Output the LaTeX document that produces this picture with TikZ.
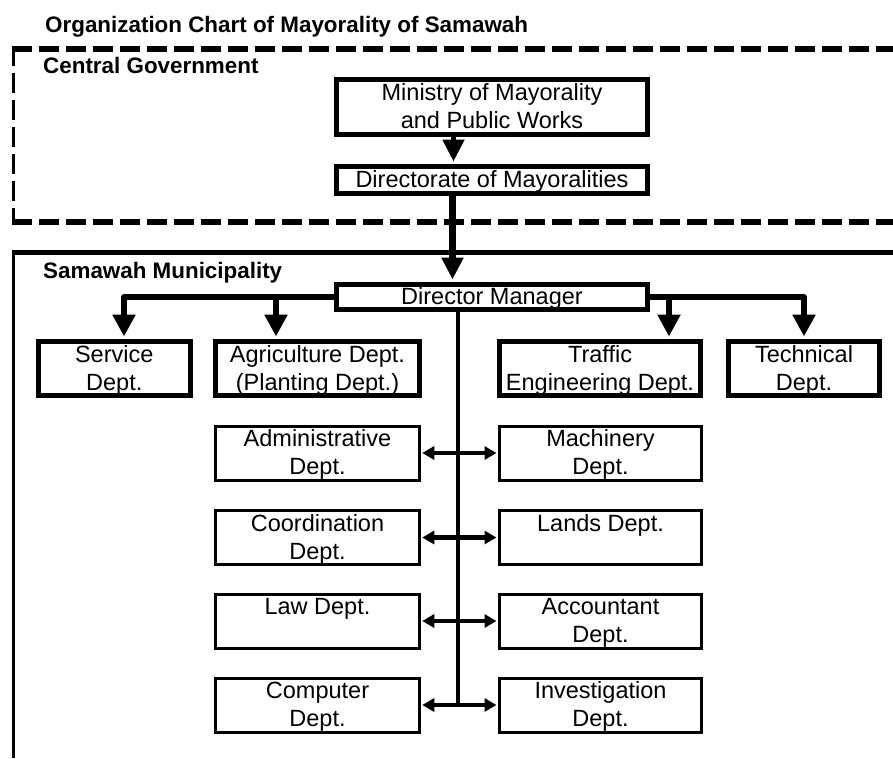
\documentclass[tikz,border=0pt]{standalone}
\usepackage{fontspec}
\setmainfont{Liberation Sans}
\usetikzlibrary{arrows.meta}
\newcommand{\sr}{\rule[-5pt]{0pt}{25pt}}
\begin{document}
\begin{tikzpicture}[x=1pt,y=-1pt,
  thickbox/.style={draw, line width=5pt, inner sep=0pt, align=center,
    font=\fontsize{23.5}{28}\selectfont},
  thinbox/.style={draw, line width=3pt, inner sep=0pt, align=center,
    minimum height=54pt, font=\fontsize{23.5}{28}\selectfont},
  headlbl/.style={inner sep=0pt, anchor=base west,
    font=\fontsize{22.4}{27}\selectfont\bfseries},
  dsh/.style={line width=5.5pt, dash pattern=on 20pt off 7pt},
  mainarrow/.style={line width=7pt, -{Triangle[length=22pt,width=21pt]}, shorten >=2.5pt},
  smallarrow/.style={line width=5pt, -{Triangle[length=22pt,width=21pt]}, shorten >=2.5pt},
  branch/.style={line width=6pt, line cap=round, line join=round,
    -{Triangle[length=22pt,width=22pt]}, shorten >=2.5pt},
  branchline/.style={line width=6pt, line cap=round},
  spine/.style={line width=3.5pt},
  twoway/.style={line width=4.5pt, {Triangle[length=12pt,width=13pt]}-{Triangle[length=12pt,width=13pt]}, shorten >=1.5pt, shorten <=1.5pt}
]
\useasboundingbox (0,0) rectangle (893,758);

% frames
\draw[dsh] (12,49) -- (893,49);
\draw[dsh] (12,222) -- (893,222);
\draw[line width=3.5pt, dash pattern=on 20pt off 7pt] (13.5,46) -- (13.5,225);
\draw[line width=5pt] (12,252.5) -- (893,252.5);
\draw[line width=3.5pt] (13.5,250) -- (13.5,758);

% headings
\node[headlbl] (title) at (45,32) {Organization Chart of Mayorality of Samawah};
\node[headlbl] (cg) at (43,73) {Central Government};
\node[headlbl] (sm) at (43,278) {Samawah Municipality};

% top boxes
\node[thickbox, minimum width=311pt, minimum height=55pt] (min) at (492,107)
  {Ministry of Mayorality\sr\\and Public Works\sr};
\node[thickbox, minimum width=311pt, minimum height=27pt] (dir) at (492,180)
  {Directorate of Mayoralities\sr};
\node[thickbox, minimum width=311pt, minimum height=25pt] (dm) at (492,297)
  {Director Manager\sr};

% first row departments
\node[thickbox, minimum width=151.5pt, minimum height=54pt] (svc) at (114.25,368.5)
  {Service\sr\\Dept.\sr};
\node[thickbox, minimum width=204pt, minimum height=54pt] (agr) at (317.5,368.5)
  {Agriculture Dept.\sr\\(Planting Dept.)\sr};
\node[thickbox, minimum width=201pt, minimum height=54pt] (trf) at (600,368.5)
  {Traffic\sr\\Engineering Dept.\sr};
\node[thickbox, minimum width=151pt, minimum height=54pt] (tec) at (804,368.5)
  {Technical\sr\\Dept.\sr};

% lower departments
\node[thinbox, minimum width=203.5pt] (adm) at (317.5,453) {Administrative\sr\\Dept.\sr};
\node[thinbox, minimum width=203.5pt] (coo) at (317.5,537.5) {Coordination\sr\\Dept.\sr};
\node[thinbox, minimum width=203.5pt] (law) at (317.5,621) {Law Dept.\sr\\\sr};
\node[thinbox, minimum width=203.5pt] (cmp) at (317.5,705) {Computer\sr\\Dept.\sr};
\node[thinbox, minimum width=202pt] (mac) at (600.5,453) {Machinery\sr\\Dept.\sr};
\node[thinbox, minimum width=202pt] (lan) at (600.5,537.5) {Lands Dept.\sr\\\sr};
\node[thinbox, minimum width=202pt] (acc) at (600.5,621) {Accountant\sr\\Dept.\sr};
\node[thinbox, minimum width=202pt] (inv) at (600.5,705) {Investigation\sr\\Dept.\sr};

% helper coordinates
\coordinate (xa) at (453.5,0);
\coordinate (xb) at (452.5,0);
\coordinate (vx) at (458,0);
\coordinate (bl) at (124,297);
\coordinate (ba) at (276,297);
\coordinate (bt) at (669,297);

% vertical connectors
\draw[smallarrow] (min.south -| xa) -- (dir.north -| xa);
\draw[mainarrow] (dir.south -| xb) -- (dm.north -| xb);

% branches
\draw[branch] (dm.west) -| (svc.north -| bl);
\draw[branch] (ba) -- (agr.north -| ba);
\draw[branch] (dm.east) -| (tec.north);
\draw[branch] (bt) -- (trf.north -| bt);

% spine
\draw[spine] (dm.south -| vx) -- (cmp.east -| vx);
\draw[twoway] (adm.east) -- (mac.west);
\draw[twoway] (coo.east) -- (lan.west);
\draw[twoway] (law.east) -- (acc.west);
\draw[twoway] (cmp.east) -- (inv.west);
\end{tikzpicture}
\end{document}
